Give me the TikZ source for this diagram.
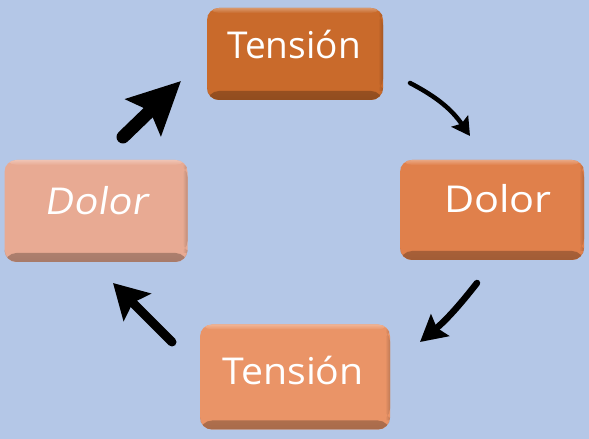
\documentclass[tikz,border=0pt]{standalone}
\usepackage{fontspec}
\setmainfont{Open Sans}
\newfontfamily\slfont[FakeSlant=0.15]{Open Sans}
\usetikzlibrary{arrows.meta}
\definecolor{bg}{HTML}{B4C7E7}
\definecolor{cTop}{HTML}{C96A2B}
\definecolor{cRight}{HTML}{E0804B}
\definecolor{cBottom}{HTML}{EA9467}
\definecolor{cLeft}{HTML}{E8AA93}
\tikzset{
  box/.style={rounded corners=12pt, inner sep=0pt, draw=none, fill=#1,
     path picture={
       \shade[top color=#1, bottom color=#1!72!black]
         ([yshift=9pt]path picture bounding box.south west) rectangle (path picture bounding box.south east);
       \shade[top color=#1!70!white, bottom color=#1]
         (path picture bounding box.north west) rectangle ([yshift=-5pt]path picture bounding box.north east);
       \shade[left color=#1, right color=#1!82!black]
         ([xshift=-5pt,yshift=9pt]path picture bounding box.south east) rectangle ([yshift=-5pt]path picture bounding box.north east);
     }},
  lbl/.style={anchor=base, inner sep=0pt, text=white, font=\fontsize{37}{37}\selectfont},
  arr/.style={line cap=round, black},
}
\begin{document}
\begin{tikzpicture}[x=1pt,y=1pt]
\fill[bg] (0,0) rectangle (589,439);
\useasboundingbox (0,0) rectangle (589,439);
\node[box=cTop, minimum width=176pt, minimum height=92pt] (top) at (295,385) {};
\node[box=cRight, minimum width=184pt, minimum height=100pt] (right) at (492,229) {};
\node[box=cBottom, minimum width=190pt, minimum height=105pt] (bottom) at (295,62) {};
\node[box=cLeft, minimum width=183pt, minimum height=102pt] (left) at (96,228) {};
\node[lbl] (ttop) at (294,380) {\scalebox{1.0}[1]{Tensión}};
\node[lbl] (tright) at (498,226) {\scalebox{1.12}[1]{Dolor}};
\node[lbl] (tbottom) at (293,54) {\scalebox{1.06}[1]{Tensión}};
\node[lbl, font=\fontsize{37}{37}\slfont] (tleft) at (96,224) {\scalebox{1.07}[1]{Dolor}};
\coordinate (a1s) at (123,302);
\coordinate (a1e) at (181,358);
\coordinate (a2s) at (410,356);
\coordinate (a2e) at (470,303);
\coordinate (a3s) at (477,156);
\coordinate (a3e) at (420,97);
\coordinate (a4s) at (172,97);
\coordinate (a4e) at (113,156);
\draw[arr, line width=13pt, -{Stealth[length=52pt, width=50pt, inset=9pt]}] (a1s) -- (a1e);
\draw[arr, line width=4.5pt, -{Stealth[length=18pt, width=20pt, inset=3pt]}] (a2s) to[bend left=14] (a2e);
\draw[arr, line width=6.5pt, -{Stealth[length=26pt, width=28pt, inset=4pt]}] (a3s) to[bend left=6] (a3e);
\draw[arr, line width=9pt, -{Stealth[length=34pt, width=38pt, inset=6pt]}] (a4s) -- (a4e);
\end{tikzpicture}
\end{document}
